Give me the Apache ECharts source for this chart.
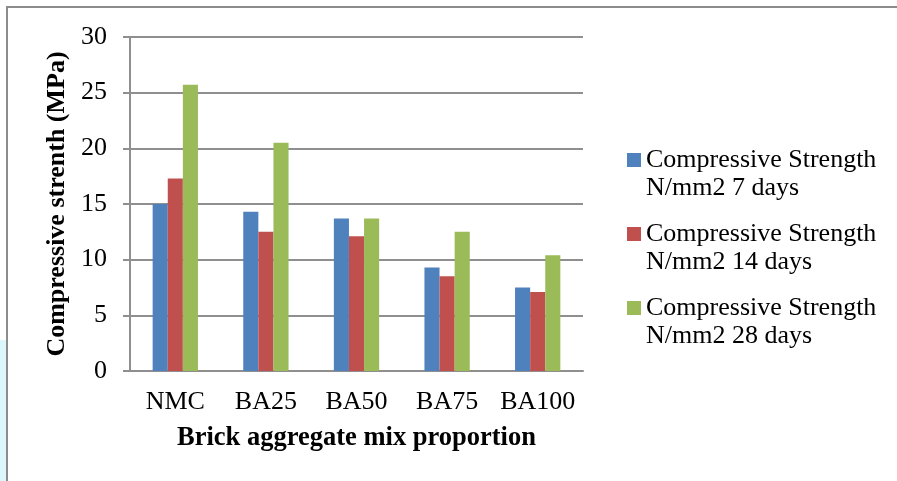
<!DOCTYPE html>
<html>
<head>
<meta charset="utf-8">
<script src="https://cdn.jsdelivr.net/npm/echarts@6/dist/echarts.min.js"></script>
<style>
html,body{margin:0;padding:0;background:#fff;}
#chart{width:897px;height:481px;}
</style>
</head>
<body>
<div id="chart"></div>
<script>
const categories = ['NMC', 'BA25', 'BA50', 'BA75', 'BA100'];
const days7 = [15.0, 14.3, 13.7, 9.3, 7.5];
const days14 = [17.3, 12.5, 12.1, 8.5, 7.1];
const days28 = [25.7, 20.5, 13.7, 12.5, 10.4];
const seriesNames = [
  'Compressive Strength\nN/mm2 7 days',
  'Compressive Strength\nN/mm2 14 days',
  'Compressive Strength\nN/mm2 28 days'
];
const yTicks = { min: 0, max: 30, interval: 5 };
const colors = ['#4F81BD', '#C0504D', '#9BBB59'];
const font = '"Liberation Serif", "Times New Roman", serif';
const gridColor = '#8f8f8f';

const chart = echarts.init(document.getElementById('chart'), null, { renderer: 'canvas' });
const values = [days7, days14, days28];
chart.setOption({
  animation: false,
  backgroundColor: '#ffffff',
  color: colors,
  textStyle: { fontFamily: font, color: '#000' },
  graphic: [
    { type: 'rect', shape: { x: 0, y: 340, width: 6, height: 141 }, style: { fill: '#dcf7fb' }, silent: true },
    { type: 'rect', shape: { x: 7, y: 7, width: 1000, height: 700 }, style: { fill: 'none', stroke: '#8c8c8c', lineWidth: 2 }, silent: true }
  ],
  grid: { left: 130, top: 37, right: 314, bottom: 110, containLabel: false },
  legend: {
    orient: 'vertical',
    left: 627,
    top: 118,
    padding: 0,
    itemWidth: 14,
    itemHeight: 14,
    itemGap: -10,
    icon: 'rect',
    data: seriesNames,
    formatter: function (name) { return ' \n' + name; },
    textStyle: { fontFamily: font, fontSize: 26, color: '#000', lineHeight: 28 }
  },
  xAxis: {
    type: 'category',
    data: categories,
    name: 'Brick aggregate mix proportion',
    nameLocation: 'middle',
    nameGap: 54,
    nameTextStyle: { fontFamily: font, fontSize: 26.5, fontWeight: 'bold', color: '#000' },
    axisLine: { lineStyle: { color: gridColor, width: 2 } },
    axisTick: { show: false },
    axisLabel: { fontFamily: font, fontSize: 26, color: '#000', margin: 18, interval: 0 }
  },
  yAxis: {
    type: 'value',
    min: yTicks.min,
    max: yTicks.max,
    interval: yTicks.interval,
    name: 'Compressive strenth (MPa)',
    nameLocation: 'middle',
    nameGap: 60,
    nameTextStyle: { fontFamily: font, fontSize: 26, fontWeight: 'bold', color: '#000' },
    axisLine: { show: true, lineStyle: { color: gridColor, width: 2 } },
    axisTick: { show: true, length: 7, lineStyle: { color: gridColor, width: 2 } },
    axisLabel: { fontFamily: font, fontSize: 26, color: '#000', margin: 23 },
    splitLine: { lineStyle: { color: gridColor, width: 2 } }
  },
  series: values.map((v, i) => ({
    name: seriesNames[i],
    type: 'bar',
    data: v,
    barGap: '0%',
    barCategoryGap: '50%',
    itemStyle: { color: colors[i] }
  }))
});
</script>
</body>
</html>
